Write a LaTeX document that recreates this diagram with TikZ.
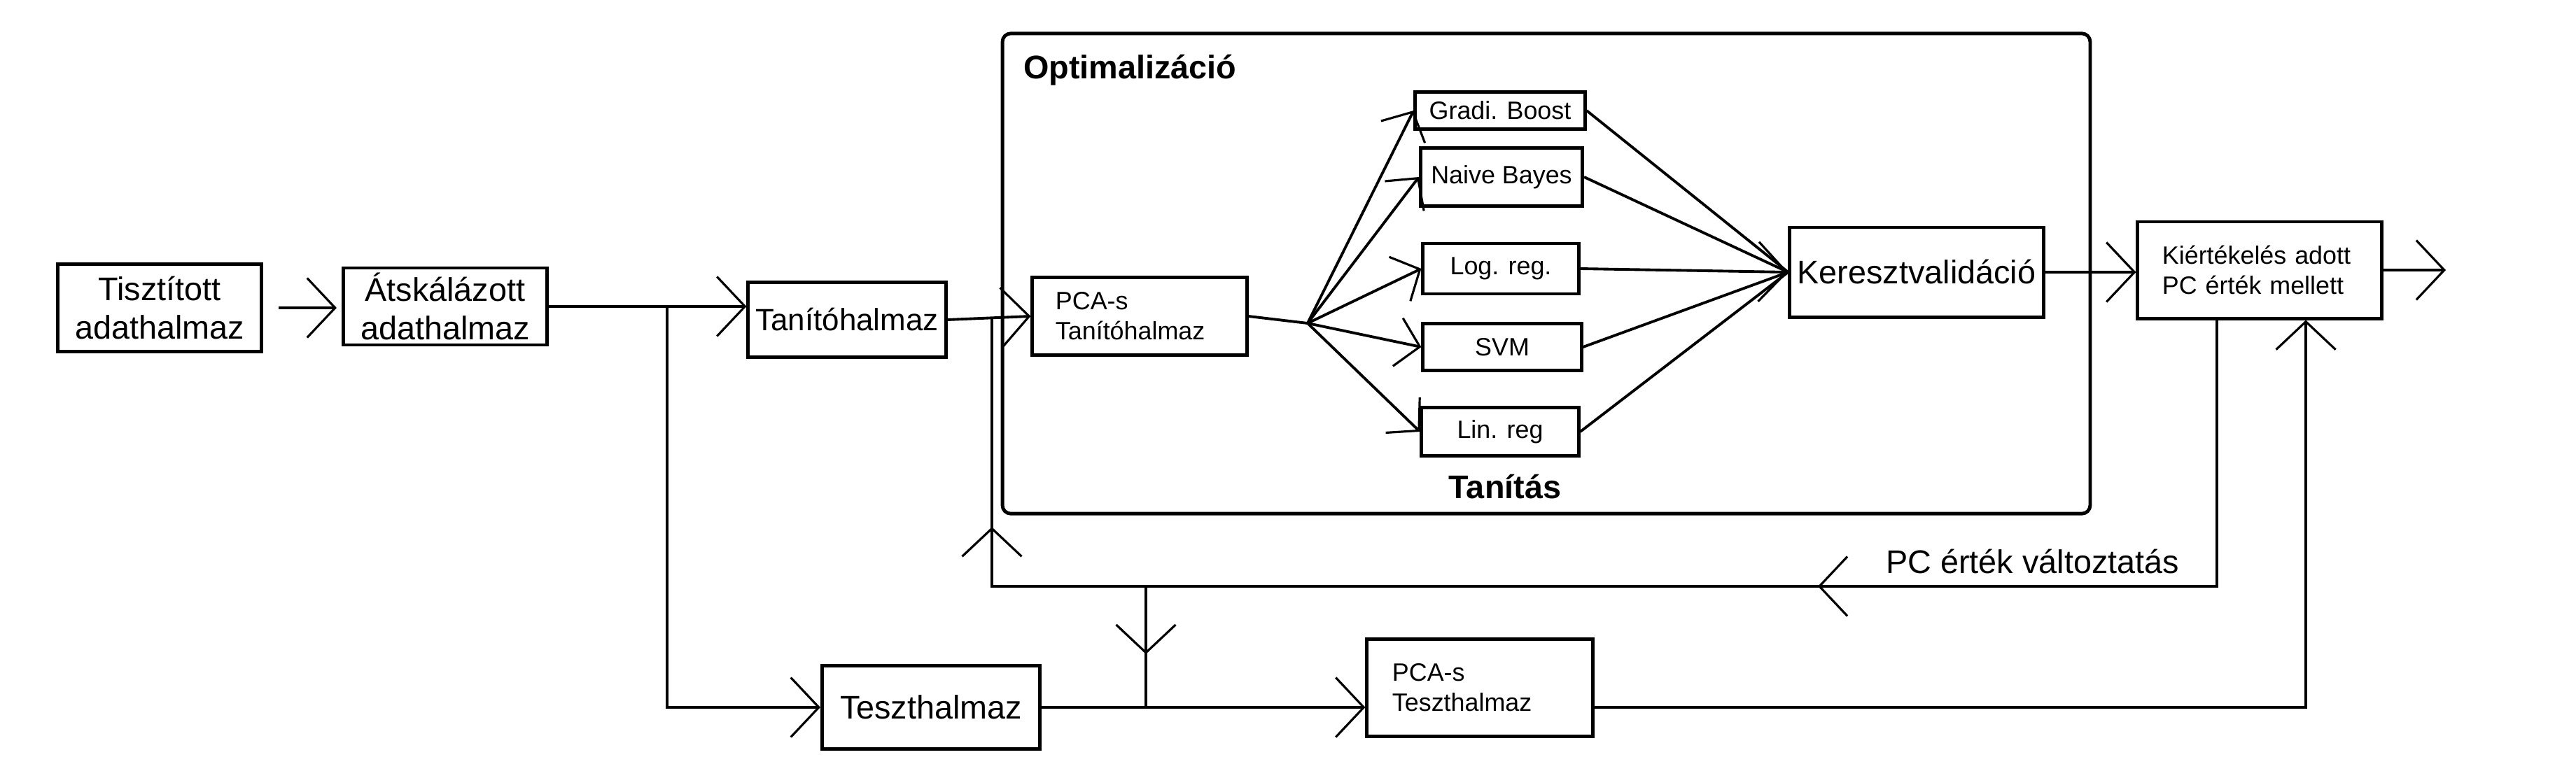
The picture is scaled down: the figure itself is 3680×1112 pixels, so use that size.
\documentclass[tikz,border=0pt]{standalone}
\usepackage{fontspec}
\setmainfont{Liberation Sans}
\usetikzlibrary{arrows.meta,decorations.markings}

\begin{document}
\begin{tikzpicture}[
    x=0.01cm, y=-0.01cm,
    >={Straight Barb[length=0.4cm, width=0.85cm, line width=0.9pt]},
    box/.style={draw, line width=1.4pt, inner sep=0pt, align=center},
    big/.style={font=\fontsize{13.3pt}{15.6pt}\selectfont},
    small/.style={font=\fontsize{10.2pt}{12.2pt}\selectfont},
    panelcap/.style={font=\fontsize{13.3pt}{15.6pt}\selectfont\bfseries},
    wire/.style={line width=1.1pt},
    arr/.style={wire, ->},
    sarr/.style={wire, -{Straight Barb[length=0.32cm, width=0.7cm, line width=0.9pt]}},
    midtip/.style={postaction={decorate, decoration={markings,
        mark=at position #1 with {\arrow{>}}}}}
]
\useasboundingbox (0,0) rectangle (3680,1112);

% --- Optimalizáció frame ---
\node[draw, line width=1.4pt, rounded corners=0.12cm, minimum width=15.53cm,
    minimum height=6.86cm] (optim) at (2209,391) {};
\node[panelcap, anchor=base west] (optcap) at (1450,112) {Optimalizáció};
\node[panelcap, anchor=base] (tancap) at (2150,712) {Tanítás};

% --- data boxes ---
\node[box, big, minimum width=2.91cm, minimum height=1.25cm] (tisztitott) at (228,440) {Tisztított\\adathalmaz};
\node[box, big, minimum width=2.91cm, minimum height=1.10cm] (atskalazott) at (636,438) {Átskálázott\\adathalmaz};
\node[box, font=\fontsize{12.5pt}{15pt}\selectfont, minimum width=2.82cm, minimum height=1.07cm] (tanito) at (1210,457) {Tanítóhalmaz};
\node[box, small, text width=2.4cm, align=left, inner xsep=0.33cm, minimum height=1.11cm] (pcatanito) at (1628,452) {PCA-s\\Tanítóhalmaz};
\node[box, big, minimum width=3.62cm, minimum height=1.28cm] (kereszt) at (2738,389) {Keresztvalidáció};
\node[box, small, text width=2.78cm, align=left, inner xsep=0.35cm, minimum height=1.38cm] (kiert) at (3228,386) {Kiértékelés adott\\PC érték mellett};
\node[box, big, minimum width=3.11cm, minimum height=1.19cm] (teszt) at (1330,1011) {Teszthalmaz};
\node[box, small, text width=2.5cm, align=left, inner xsep=0.36cm, minimum height=1.39cm] (pcateszt) at (2114,983) {PCA-s\\Teszthalmaz};

% --- models ---
\foreach \name/\txt/\x/\y/\w/\h in
    {gradi/Gradi. Boost/2143/158/2.42/0.53,
     naive/Naive Bayes/2145/253/2.31/0.83,
     logreg/Log. reg./2144/384/2.22/0.72,
     svm/SVM/2146/496/2.26/0.67,
     linreg/Lin. reg/2143/617/2.24/0.69} {
    \node[box, small, minimum width=\w cm, minimum height=\h cm] (\name) at (\x,\y) {\txt};
}

% --- connectors ---
\coordinate (split) at (953,438);
\coordinate (fbtop) at (1417,455);
\coordinate (fbcorner) at (1417,838);
\coordinate (fbdown) at (1637,838);
\coordinate (fan) at (1868,462);
\coordinate (out) at (3494,386);

\draw[arr, shorten <=0.22cm, shorten >=0.07cm] (tisztitott.east) -- (tisztitott.east -| atskalazott.west);
\draw[arr] (atskalazott.east) -- (atskalazott.east -| tanito.west);
\draw[arr] (split) |- (teszt.west);
\draw[arr] (tanito.east) -- (pcatanito.west);
\draw[wire] (pcatanito.east) -- (fan);
\foreach \name/\tip in {gradi/wire,naive/wire,logreg/arr,svm/wire,linreg/wire} {
    \draw[sarr] (fan) -- (\name.west);
    \draw[\tip] (\name.east) -- (kereszt.west);
}
\draw[arr] (kereszt.east) -- (kereszt.east -| kiert.west);
\draw[arr] (kiert.east) -- (out);

% feedback: PC value change
\draw[wire, midtip=9.5cm, midtip=22.14cm] ([xshift=-0.61cm]kiert.south) |- (fbcorner) -- (fbtop);
\node[big, anchor=base west] (pclbl) at (2682,819) {PC érték változtatás};
\draw[wire, midtip=0.97cm] (fbdown) -- (fbdown |- teszt.east);

% test branch
\draw[arr] (teszt.east) -- (teszt.east -| pcateszt.west);
\draw[arr] (pcateszt.east |- teszt.east) -| ([xshift=0.66cm]kiert.south);

\end{tikzpicture}
\end{document}
